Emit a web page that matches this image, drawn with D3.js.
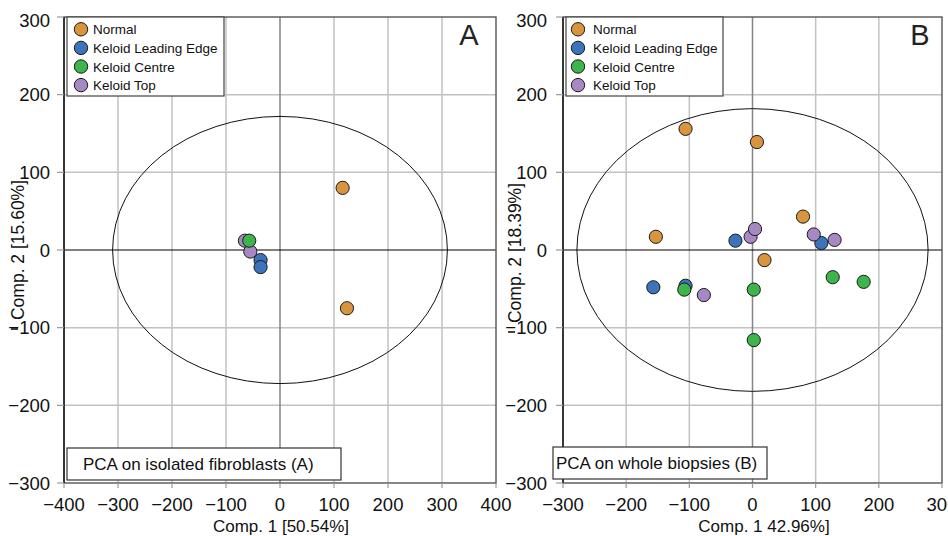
<!DOCTYPE html>
<html>
<head>
<meta charset="utf-8">
<script src="https://cdn.jsdelivr.net/npm/d3@7"></script>
<style>
  html, body { margin: 0; padding: 0; background: #fff; }
  svg { display: block; font-family: "Liberation Sans", Arial, Helvetica, sans-serif; }
</style>
</head>
<body>
<svg id="chart" width="948" height="536"></svg>
<script>
// ---------- data ----------
const seriesNames = ["Normal", "Keloid Leading Edge", "Keloid Centre", "Keloid Top"];
const seriesColors = ["#d8943e", "#3c74bc", "#3db54a", "#a689c3"];

// Panel A: PCA on isolated fibroblasts
const fibNormalX = [116, 124];
const fibNormalY = [80, -75];
const fibEdgeX = [-36, -36];
const fibEdgeY = [-13, -22];
const fibCentreX = [-57];
const fibCentreY = [12];
const fibTopX = [-65, -55];
const fibTopY = [12, -2];

// Panel B: PCA on whole biopsies
const bioNormalX = [-106, 7, -153, 80, 19];
const bioNormalY = [156, 139, 17, 43, -13];
const bioEdgeX = [-27, 109, -157, -106];
const bioEdgeY = [12, 9, -48, -46];
const bioCentreX = [-108, 2, 2, 127, 176];
const bioCentreY = [-51, -51, -116, -35, -41];
const bioTopX = [-77, -3, 4, 97, 130];
const bioTopY = [-58, 17, 27, 20, 13];

const ticksA_X = [-400, -300, -200, -100, 0, 100, 200, 300, 400];
const ticksB_X = [-300, -200, -100, 0, 100, 200, 300];
const ticksY = [-300, -200, -100, 0, 100, 200, 300];

const ellipseA = { rx: 310, ry: 172 };
const ellipseB = { rx: 278, ry: 182 };

const panels = [
  {
    xDomain: [-400, 400], xRange: [64, 496], xTicks: ticksA_X,
    yTickX: 50,
    series: [[fibNormalX, fibNormalY], [fibEdgeX, fibEdgeY], [fibCentreX, fibCentreY], [fibTopX, fibTopY]],
    order: [3, 2, 1, 0],
    ellipse: ellipseA,
    letter: "A", letterX: 469,
    legend: { x: 67, w: 157, cx: 81, tx: 93 },
    note: { x: 67, y: 448, w: 274, h: 32, tx: 83, ty: 470, text: "PCA on isolated fibroblasts (A)" },
    xTitle: "Comp. 1 [50.54%]", xTitleX: 281,
    yTitle: "Comp. 2 [15.60%]", yTitleX: 24, yTitleY: 250, stray: 14
  },
  {
    xDomain: [-300, 300], xRange: [563, 942], xTicks: ticksB_X,
    yTickX: 547,
    series: [[bioNormalX, bioNormalY], [bioEdgeX, bioEdgeY], [bioCentreX, bioCentreY], [bioTopX, bioTopY]],
    order: [0, 1, 2, 3],
    ellipse: ellipseB,
    letter: "B", letterX: 920,
    legend: { x: 566, w: 157, cx: 578, tx: 593 },
    note: { x: 553, y: 447, w: 214, h: 32, tx: 556, ty: 468.5, text: "PCA on whole biopsies (B)" },
    xTitle: "Comp. 1 42.96%]", xTitleX: 764,
    yTitle: "Comp. 2 [18.39%]", yTitleX: 521, yTitleY: 253, stray: 511
  }
];

const svg = d3.select("#chart");
const fmt = d3.format("");

panels.forEach(p => {
  const x = d3.scaleLinear().domain(p.xDomain).range(p.xRange);
  const y = d3.scaleLinear().domain([-300, 300]).range([483, 17]);
  const g = svg.append("g");
  const x0 = p.xRange[0], x1 = p.xRange[1];

  // grid
  g.selectAll(".vg").data(p.xTicks.filter(t => t !== 0 && t !== p.xDomain[0] && t !== p.xDomain[1]))
    .join("line").attr("x1", d => x(d)).attr("x2", d => x(d)).attr("y1", y(300)).attr("y2", y(-300))
    .attr("stroke", "#c2c2c2").attr("stroke-width", 1.5);
  g.selectAll(".hg").data(ticksY.filter(t => t !== 0 && Math.abs(t) !== 300))
    .join("line").attr("x1", x0).attr("x2", x1).attr("y1", d => y(d)).attr("y2", d => y(d))
    .attr("stroke", "#c2c2c2").attr("stroke-width", 1.5);
  // zero vertical line
  g.append("line").attr("x1", x(0)).attr("x2", x(0)).attr("y1", y(300)).attr("y2", y(-300))
    .attr("stroke", "#858585").attr("stroke-width", 1.5);

  // ellipse
  g.append("ellipse").attr("cx", x(0)).attr("cy", y(0))
    .attr("rx", x(p.ellipse.rx) - x(0)).attr("ry", y(0) - y(p.ellipse.ry))
    .attr("fill", "none").attr("stroke", "#111").attr("stroke-width", 1);

  // zero horizontal line
  g.append("line").attr("x1", x0).attr("x2", x1).attr("y1", y(0)).attr("y2", y(0))
    .attr("stroke", "#000").attr("stroke-width", 1.2);

  // frame
  g.append("rect").attr("x", x0).attr("y", y(300)).attr("width", x1 - x0).attr("height", y(-300) - y(300))
    .attr("fill", "none").attr("stroke", "#555").attr("stroke-width", 1.4);
  g.append("line").attr("x1", x0).attr("x2", x0).attr("y1", y(300)).attr("y2", y(-300))
    .attr("stroke", "#222").attr("stroke-width", 1.6);

  // ticks
  g.selectAll(".yt").data(ticksY).join("line")
    .attr("x1", x0 - 7).attr("x2", x0).attr("y1", d => y(d)).attr("y2", d => y(d))
    .attr("stroke", "#999").attr("stroke-width", 1.2);
  g.selectAll(".xt").data(p.xTicks).join("line")
    .attr("x1", d => x(d)).attr("x2", d => x(d)).attr("y1", y(-300)).attr("y2", y(-300) + 5)
    .attr("stroke", "#999").attr("stroke-width", 1.2);

  // tick labels
  g.selectAll(".yl").data(ticksY).join("text")
    .attr("x", p.yTickX).attr("y", d => y(d) + 6.7 + (d === 300 ? 3 : 0))
    .attr("text-anchor", "end").attr("font-size", 18.5).attr("fill", "#111")
    .text(d => fmt(d));
  g.selectAll(".xl").data(p.xTicks).join("text")
    .attr("x", d => x(d)).attr("y", 511)
    .attr("text-anchor", "middle").attr("font-size", 18.5).attr("fill", "#111")
    .text(d => fmt(d));

  // points
  p.order.forEach(si => {
    const [xs, ys] = p.series[si];
    g.selectAll(null).data(xs.map((v, i) => [v, ys[i]])).join("circle")
      .attr("cx", d => x(d[0])).attr("cy", d => y(d[1])).attr("r", 6.6)
      .attr("fill", seriesColors[si]).attr("stroke", "#1a1a1a").attr("stroke-width", 1);
  });

  // legend
  const L = p.legend;
  g.append("rect").attr("x", L.x).attr("y", 17).attr("width", L.w).attr("height", 79)
    .attr("fill", "#fff").attr("stroke", "#444").attr("stroke-width", 1.2);
  seriesNames.forEach((name, i) => {
    const cy = 29.3 + i * 18.6;
    g.append("circle").attr("cx", L.cx).attr("cy", cy).attr("r", 6.7)
      .attr("fill", seriesColors[i]).attr("stroke", "#1a1a1a").attr("stroke-width", 1);
    g.append("text").attr("x", L.tx).attr("y", cy + 5).attr("font-size", 13.5).attr("fill", "#111").text(name);
  });

  // panel letter
  g.append("text").attr("x", p.letterX).attr("y", 45).attr("text-anchor", "middle")
    .attr("font-size", 29).attr("fill", "#222").text(p.letter);

  // note box
  const N = p.note;
  g.append("rect").attr("x", N.x).attr("y", N.y).attr("width", N.w).attr("height", N.h)
    .attr("fill", "#fff").attr("stroke", "#333").attr("stroke-width", 1.2);
  g.append("text").attr("x", N.tx).attr("y", N.ty).attr("font-size", 17).attr("fill", "#111").text(N.text);

  // axis titles
  g.append("text").attr("x", p.xTitleX).attr("y", 532).attr("text-anchor", "middle")
    .attr("font-size", 17).attr("fill", "#111").text(p.xTitle);
  g.append("text").attr("transform", `translate(${p.yTitleX},${p.yTitleY}) rotate(-90)`)
    .attr("text-anchor", "middle").attr("font-size", 17.5).attr("fill", "#111").text(p.yTitle);
  // small stray mark before the y title
  g.append("line").attr("x1", p.stray - 3).attr("x2", p.stray + 4).attr("y1", p.yTitleY + 79).attr("y2", p.yTitleY + 79)
    .attr("stroke", "#111").attr("stroke-width", 1.6);
});
</script>
</body>
</html>
